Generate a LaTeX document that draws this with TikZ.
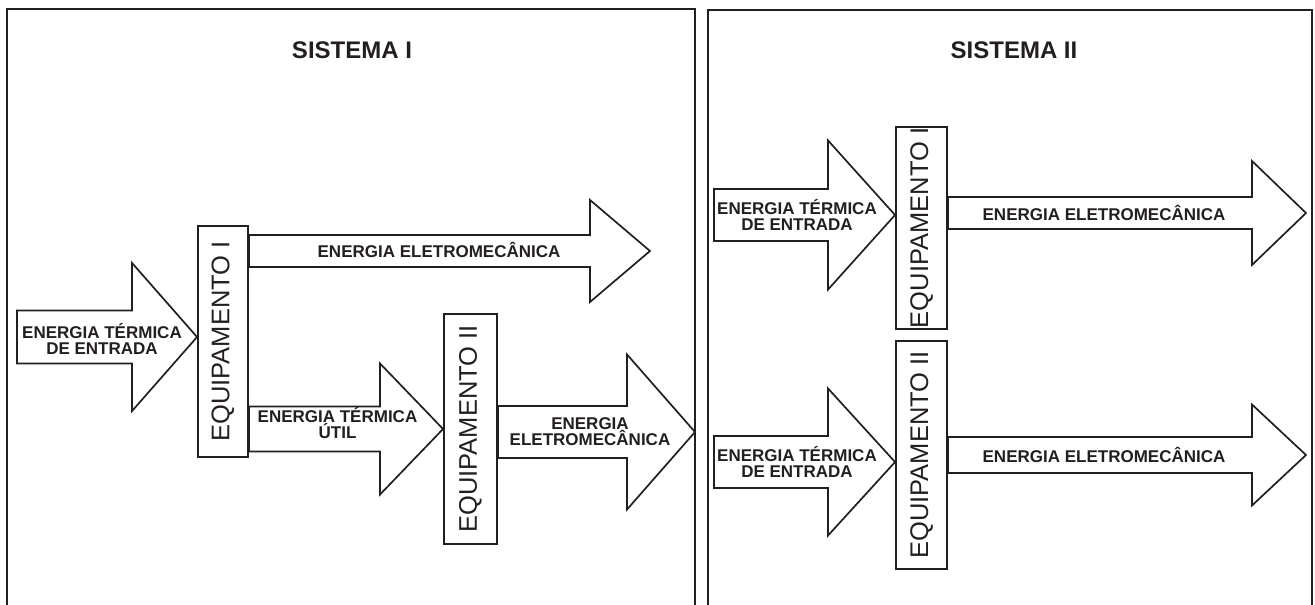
\documentclass[tikz,border=0pt]{standalone}
\usepackage{fontspec}
\setmainfont{Liberation Sans}
\usetikzlibrary{calc}

\definecolor{ink}{RGB}{35,31,32}
\tikzset{every picture/.style={line width=1.3pt}}
\tikzset{
	panel/.style={draw=ink, line width=2pt},
	fatline/.style={draw=ink, fill=white, line width=1.7pt, line join=miter},
	equip/.style={draw=ink, line width=1.9pt, inner sep=0pt, text=ink, font=\fontsize{25.5}{30}\selectfont},
	lbl/.style={align=center, text=ink, inner sep=0pt, font=\bfseries\fontsize{17}{16}\selectfont},
	titulo/.style={text=ink, inner sep=0pt, font=\bfseries\fontsize{24}{28}\selectfont}}
% block arrow: tail, tip, shaft half-width, head half-width, head length
\newcommand{\fatarrow}[5]{%
	\draw[fatline] ($#1+(0,-#3)$) -- ($#2+(-#5,-#3)$) -- ($#2+(-#5,-#4)$) -- #2 -- ($#2+(-#5,#4)$) -- ($#2+(-#5,#3)$) -- ($#1+(0,#3)$) -- cycle ;}

\begin{document}
\begin{tikzpicture}[x=1pt,y=1pt,yscale=-1,xscale=1]
	\useasboundingbox (0,0) rectangle (1315,605);

	%Shape: Panels
	\draw[panel] (7,605) -- (7,9) -- (695,9) -- (695,605) ;
	\draw[panel] (708,605) -- (708,10) -- (1312,10) -- (1312,605) ;

	% Text Node
	\node[titulo] (tituloA) at (352,50) {SISTEMA I};
	% Text Node
	\node[titulo] (tituloB) at (1014,50) {SISTEMA II};

	%Shape: Equipment boxes
	\node[equip, minimum width=50pt, minimum height=231pt] (eqA) at (223,341.5) {\rotatebox{90}{EQUIPAMENTO I}};
	\node[equip, minimum width=53pt, minimum height=230pt] (eqB) at (470.5,429) {\rotatebox{90}{EQUIPAMENTO II}};
	\node[equip, minimum width=51pt, minimum height=202pt] (eqC) at (921.5,228) {\rotatebox{90}{EQUIPAMENTO I}};
	\node[equip, minimum width=51pt, minimum height=228pt] (eqD) at (921.5,455) {\rotatebox{90}{EQUIPAMENTO II}};

	% free ends of the block arrows
	\coordinate (inA) at (17,337);
	\coordinate (outA) at (650,251);
	\coordinate (outB) at (695,432);
	\coordinate (inC) at (714,215);
	\coordinate (outC) at (1306,213);
	\coordinate (inD) at (714,462);
	\coordinate (outD) at (1306,455);

	%Shape: Block arrows, sistema I
	\fatarrow{(inA)}{(eqA.west |- inA)}{26.5}{74}{65}
	\fatarrow{(eqA.east |- outA)}{(outA)}{16}{51}{60}
	\fatarrow{(eqA.east |- eqB.west)}{(eqB.west)}{22.5}{65.5}{63}
	\fatarrow{(eqB.east |- outB)}{(outB)}{26}{77.5}{68}
	%Shape: Block arrows, sistema II
	\fatarrow{(inC)}{(eqC.west |- inC)}{26}{74.5}{67}
	\fatarrow{(eqC.east |- outC)}{(outC)}{16}{52}{54}
	\fatarrow{(inD)}{(eqD.west |- inD)}{26}{73.5}{67}
	\fatarrow{(eqD.east |- outD)}{(outD)}{18}{50.5}{54}

	% Text Node
	\node[lbl] (lblInA) at (102,339) {ENERGIA TÉRMICA\\DE ENTRADA};
	% Text Node
	\node[lbl] (lblOutA) at (439,250) {ENERGIA ELETROMECÂNICA};
	% Text Node
	\node[lbl] (lblUtil) at (337.5,423) {ENERGIA TÉRMICA\\ÚTIL};
	% Text Node
	\node[lbl] (lblOutB) at (590,431.5) {ENERGIA\\ELETROMECÂNICA};
	% Text Node
	\node[lbl] (lblInC) at (797,215) {ENERGIA TÉRMICA\\DE ENTRADA};
	% Text Node
	\node[lbl] (lblOutC) at (1104,213) {ENERGIA ELETROMECÂNICA};
	% Text Node
	\node[lbl] (lblInD) at (797,462) {ENERGIA TÉRMICA\\DE ENTRADA};
	% Text Node
	\node[lbl] (lblOutD) at (1104,455) {ENERGIA ELETROMECÂNICA};

\end{tikzpicture}
\end{document}
